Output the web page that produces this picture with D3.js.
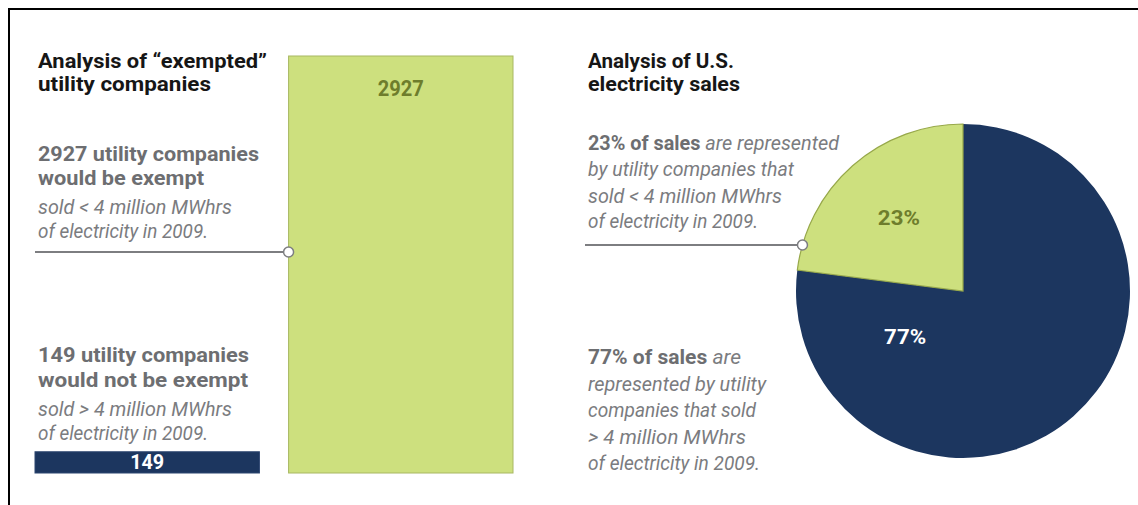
<!DOCTYPE html>
<html>
<head>
<meta charset="utf-8">
<script src="https://cdn.jsdelivr.net/npm/d3@7"></script>
<style>
  body { margin: 0; background: #fff; }
  svg { display: block; font-family: Roboto, "Noto Sans", sans-serif; }
</style>
</head>
<body>
<svg></svg>
<script>
const width = 1138;
const height = 505;

// bar part: utility companies
const barCategories = ["not exempt", "exempt"];
const barValues = [149, 2927];
const barColors = ["#1c365f", "#cde07e"];

// pie part: share of sales
const pieCategories = ["> 4 million MWhrs", "< 4 million MWhrs"];
const pieShares = [77, 23];
const pieColors = ["#1c365f", "#cde07e"];

const titleLeft = ["Analysis of \u201cexempted\u201d", "utility companies"];
const titleRight = ["Analysis of U.S.", "electricity sales"];

const gray = "#6d6e71";
const grayIt = "#7b7c7f";
const ruleGray = "#7d7e81";

let svg = d3.select("svg")
  .attr("width", width)
  .attr("height", height);

// frame (top and left edge only)
svg.append("path")
  .attr("d", `M9,${height} V9 H${width}`)
  .attr("fill", "none")
  .attr("stroke", "#000")
  .attr("stroke-width", 2);

//Рисует строку текста, сжатую до нужной ширины
function line(x, y, w, parts) {
  let t = svg.append("text")
    .attr("x", x)
    .attr("y", y)
    .attr("textLength", w)
    .attr("lengthAdjust", "spacingAndGlyphs");
  parts.forEach(p => {
    t.append("tspan")
      .text(p.text)
      .attr("font-size", p.size)
      .attr("font-weight", p.bold ? 700 : 400)
      .attr("font-style", p.italic ? "italic" : "normal")
      .attr("fill", p.color);
  });
  return t;
}
const title = s => ({text: s, size: 19.5, bold: true, color: "#161616"});
const strong = s => ({text: s, size: 20.5, bold: true, color: gray});
const ital = s => ({text: s, size: 20.5, italic: true, color: grayIt});

// ---------- bars ----------
const x = d3.scaleBand()
  .domain(barCategories)
  .range([35, 513])
  .paddingInner(0.115);

const y = d3.scaleLinear()
  .domain([0, d3.max(barValues)])
  .range([473, 56]);

const bars = barCategories.map((c, i) => ({cat: c, value: barValues[i], color: barColors[i]}));

svg.selectAll(".bar")
  .data(bars)
  .enter()
  .append("rect")
  .attr("class", "bar")
  .attr("x", d => x(d.cat))
  .attr("width", x.bandwidth())
  .attr("y", d => y(d.value))
  .attr("height", d => y(0) - y(d.value))
  .attr("fill", d => d.color)
  .attr("stroke", (d, i) => i == 1 ? "#a8b862" : "#2d4670")
  .attr("stroke-width", 1);

svg.selectAll(".barLabel")
  .data(bars)
  .enter()
  .append("text")
  .attr("class", "barLabel")
  .attr("x", d => x(d.cat) + x.bandwidth() / 2)
  .attr("y", (d, i) => i == 1 ? y(d.value) + 40 : y(0) - 4)
  .attr("text-anchor", "middle")
  .attr("font-weight", 700)
  .attr("font-size", (d, i) => i == 1 ? 22 : 20)
  .attr("fill", (d, i) => i == 1 ? "#6e7d2c" : "#fff")
  .attr("textLength", (d, i) => i == 1 ? 46 : 34)
  .attr("lengthAdjust", "spacingAndGlyphs")
  .text(d => d.value);

// left texts
line(38, 68, 229, [title(titleLeft[0])]);
line(38, 91, 173, [title(titleLeft[1])]);

line(38, 161, 221, [strong(`${barValues[1]} utility companies`)]);
line(38, 185, 166, [strong("would be exempt")]);
line(38, 214, 194, [ital("sold < 4 million MWhrs")]);
line(38, 238, 170, [ital("of electricity in 2009.")]);

line(38, 362, 211, [strong(`${barValues[0]} utility companies`)]);
line(38, 387, 210, [strong("would not be exempt")]);
line(38, 416, 194, [ital("sold > 4 million MWhrs")]);
line(38, 440, 170, [ital("of electricity in 2009.")]);

// left connector
const ruleY1 = 252;
svg.append("line")
  .attr("x1", 35).attr("x2", x("exempt"))
  .attr("y1", ruleY1).attr("y2", ruleY1)
  .attr("stroke", ruleGray).attr("stroke-width", 2);
svg.append("circle")
  .attr("cx", x("exempt")).attr("cy", ruleY1).attr("r", 5)
  .attr("fill", "#fff").attr("stroke", ruleGray).attr("stroke-width", 1.5);

// ---------- pie ----------
const cx = 963, cy = 291, r = 167;
const pie = d3.pie().sort(null)(pieShares);
const arc = d3.arc().innerRadius(0).outerRadius(r);

let g = svg.append("g").attr("transform", `translate(${cx},${cy})`);
g.selectAll("path")
  .data(pie)
  .enter()
  .append("path")
  .attr("d", arc)
  .attr("fill", (d, i) => pieColors[i])
  .attr("stroke", (d, i) => i == 1 ? "#97a84a" : "none")
  .attr("stroke-width", 1.2);

// labels
const labelArc = d3.arc().innerRadius(97).outerRadius(97);
const navyLabel = d3.pointRadial(4.04, 74);
const pieLabelPos = [navyLabel, labelArc.centroid(pie[1])];
g.selectAll(".pieLabel")
  .data(pie)
  .enter()
  .append("text")
  .attr("class", "pieLabel")
  .attr("x", (d, i) => pieLabelPos[i][0])
  .attr("y", (d, i) => pieLabelPos[i][1] + 7)
  .attr("text-anchor", "middle")
  .attr("font-weight", 700)
  .attr("font-size", 21)
  .attr("textLength", 42)
  .attr("lengthAdjust", "spacingAndGlyphs")
  .attr("fill", (d, i) => i == 1 ? "#6e7d2c" : "#fff")
  .text(d => d.data + "%");

// right texts
line(588, 68, 146, [title(titleRight[0])]);
line(588, 91, 152, [title(titleRight[1])]);

line(588, 150, 251, [strong(`${pieShares[1]}% of sales`), ital(" are represented")]);
line(588, 176, 206, [ital("by utility companies that")]);
line(588, 203, 194, [ital("sold < 4 million MWhrs")]);
line(588, 228, 170, [ital("of electricity in 2009.")]);

line(588, 364, 153, [strong(`${pieShares[0]}% of sales`), ital(" are")]);
line(588, 391, 178, [ital("represented by utility")]);
line(588, 417, 168, [ital("companies that sold")]);
line(588, 444, 158, [ital("> 4 million MWhrs")]);
line(588, 470, 172, [ital("of electricity in 2009.")]);

// right connector
const ruleY2 = 245;
const px = cx - Math.sqrt(r * r - (ruleY2 - cy) * (ruleY2 - cy));
svg.append("line")
  .attr("x1", 585).attr("x2", px)
  .attr("y1", ruleY2).attr("y2", ruleY2)
  .attr("stroke", ruleGray).attr("stroke-width", 2);
svg.append("circle")
  .attr("cx", px).attr("cy", ruleY2).attr("r", 5)
  .attr("fill", "#fff").attr("stroke", ruleGray).attr("stroke-width", 1.5);
</script>
</body>
</html>
